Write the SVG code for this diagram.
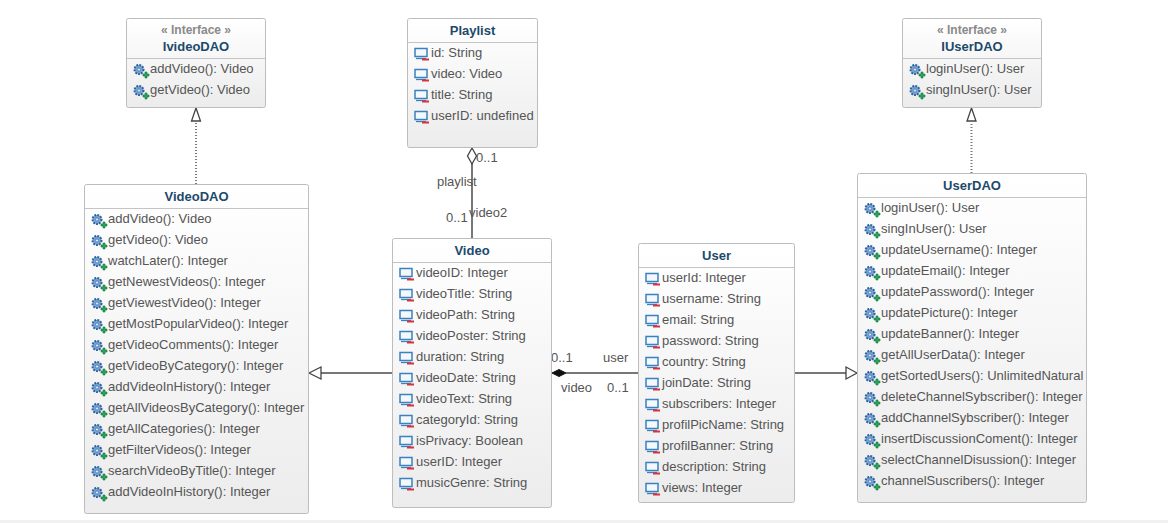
<svg xmlns="http://www.w3.org/2000/svg" width="1168" height="523" viewBox="0 0 1168 523">
<style>
text{font-family:"Liberation Sans",Arial,sans-serif;font-size:13px;fill:#555}
.t{font-weight:bold;fill:#1c4a6b;text-anchor:middle}
.s{font-weight:bold;font-size:12px;fill:#8a8a8a;text-anchor:middle}
.b{fill:url(#g);stroke:#bdbdbd;stroke-width:1}
.h{stroke:#c4c4c4;stroke-width:1;fill:none}
.c{stroke:#777;stroke-width:2;fill:none}
.d{stroke:#777;stroke-width:2;stroke-dasharray:1 2;fill:none}
.o{fill:#fff;stroke:#444;stroke-width:1.3}
</style>
<defs>
<linearGradient id="g" x1="0" y1="0" x2="0" y2="1"><stop offset="0" stop-color="#fff"/><stop offset="1" stop-color="#ececec"/></linearGradient>
<g id="op">
<circle cx="6" cy="7.500" r="4.500" fill="#7aa5d2" stroke="#2b5f9e" stroke-width="2" stroke-dasharray="1.800 1.200"/>
<circle cx="6" cy="7.500" r="1.600" fill="#dbe8f5" stroke="#2b5f9e" stroke-width="0.600"/>
<path d="M10 12h2v-2h2v2h2v2h-2v2h-2v-2h-2z" fill="#2aa25c" stroke="#0f7a3c" stroke-width="0.600"/>
</g>
<g id="at">
<rect x="1" y="1.500" width="12" height="8" fill="#f3f8fc" stroke="#3b80bf" stroke-width="1.500"/>
<path d="M2 11.500h10" stroke="#3b80bf" stroke-width="1.300"/>
<rect x="8" y="11.500" width="7" height="2" fill="#d9303a"/>
</g>
</defs>
<rect x="0" y="520" width="1168" height="3" fill="#f1f1f1"/>
<g id="connectors">
<path class="d" d="M196 184V122"/>
<path class="o" d="M196 108l-4.500 13h9z"/>
<path class="d" d="M971.500 173V122"/>
<path class="o" d="M971.500 108l-4.500 13h9z"/>
<path class="c" d="M472 238V163"/>
<path class="o" d="M472 148l-4.500 8 4.500 8 4.500-8z"/>
<path class="c" d="M392 373H320"/>
<path class="o" d="M309 373l12-6v12z"/>
<path class="c" d="M638 373H566"/>
<path d="M552 373l7-3.500 7 3.500-7 3.500z" fill="#111" stroke="#111"/>
<path class="c" d="M795 373H846"/>
<path class="o" d="M857 373l-11-6v12z"/>
<text x="476" y="162">0..1</text>
<text x="437" y="186">playlist</text>
<text x="446" y="222">0..1</text>
<text x="469" y="217">video2</text>
<text x="551" y="362">0..1</text>
<text x="603" y="362">user</text>
<text x="561" y="392">video</text>
<text x="607" y="392">0..1</text>
</g>
<g id="IvideoDAO">
<rect class="b" x="126.500" y="18.500" width="139" height="89" rx="2"/>
<path class="h" d="M127 58.500H265"/>
<text class="s" x="196" y="34">« Interface »</text>
<text class="t" x="196" y="51">IvideoDAO</text>
<use href="#op" x="133" y="62"/><text x="150" y="73">addVideo(): Video</text>
<use href="#op" x="133" y="83"/><text x="150" y="94">getVideo(): Video</text>
</g>
<g id="Playlist">
<rect class="b" x="407.500" y="18.500" width="130" height="129" rx="2"/>
<path class="h" d="M408 42.500H537"/>
<text class="t" x="472.500" y="35">Playlist</text>
<use href="#at" x="414" y="47"/><text x="431" y="57">id: String</text>
<use href="#at" x="414" y="68"/><text x="431" y="78">video: Video</text>
<use href="#at" x="414" y="89"/><text x="431" y="99">title: String</text>
<use href="#at" x="414" y="110"/><text x="431" y="120">userID: undefined</text>
</g>
<g id="IUserDAO">
<rect class="b" x="902.500" y="18.500" width="139" height="89" rx="2"/>
<path class="h" d="M903 58.500H1041"/>
<text class="s" x="972" y="34">« Interface »</text>
<text class="t" x="972" y="51">IUserDAO</text>
<use href="#op" x="909" y="62"/><text x="926" y="73">loginUser(): User</text>
<use href="#op" x="909" y="83"/><text x="926" y="94">singInUser(): User</text>
</g>
<g id="VideoDAO">
<rect class="b" x="84.500" y="184.500" width="224" height="329" rx="2"/>
<path class="h" d="M85 208.500H308"/>
<text class="t" x="196.500" y="201">VideoDAO</text>
<use href="#op" x="91" y="212"/><text x="108" y="223">addVideo(): Video</text>
<use href="#op" x="91" y="233"/><text x="108" y="244">getVideo(): Video</text>
<use href="#op" x="91" y="254"/><text x="108" y="265">watchLater(): Integer</text>
<use href="#op" x="91" y="275"/><text x="108" y="286">getNewestVideos(): Integer</text>
<use href="#op" x="91" y="296"/><text x="108" y="307">getViewestVideo(): Integer</text>
<use href="#op" x="91" y="317"/><text x="108" y="328">getMostPopularVideo(): Integer</text>
<use href="#op" x="91" y="338"/><text x="108" y="349">getVideoComments(): Integer</text>
<use href="#op" x="91" y="359"/><text x="108" y="370">getVideoByCategory(): Integer</text>
<use href="#op" x="91" y="380"/><text x="108" y="391">addVideoInHistory(): Integer</text>
<use href="#op" x="91" y="401"/><text x="108" y="412">getAllVideosByCategory(): Integer</text>
<use href="#op" x="91" y="422"/><text x="108" y="433">getAllCategories(): Integer</text>
<use href="#op" x="91" y="443"/><text x="108" y="454">getFilterVideos(): Integer</text>
<use href="#op" x="91" y="464"/><text x="108" y="475">searchVideoByTitle(): Integer</text>
<use href="#op" x="91" y="485"/><text x="108" y="496">addVideoInHistory(): Integer</text>
</g>
<g id="Video">
<rect class="b" x="392.500" y="238.500" width="159" height="269" rx="2"/>
<path class="h" d="M393 262.500H551"/>
<text class="t" x="472" y="255">Video</text>
<use href="#at" x="399" y="267"/><text x="416" y="277">videoID: Integer</text>
<use href="#at" x="399" y="288"/><text x="416" y="298">videoTitle: String</text>
<use href="#at" x="399" y="309"/><text x="416" y="319">videoPath: String</text>
<use href="#at" x="399" y="330"/><text x="416" y="340">videoPoster: String</text>
<use href="#at" x="399" y="351"/><text x="416" y="361">duration: String</text>
<use href="#at" x="399" y="372"/><text x="416" y="382">videoDate: String</text>
<use href="#at" x="399" y="393"/><text x="416" y="403">videoText: String</text>
<use href="#at" x="399" y="414"/><text x="416" y="424">categoryId: String</text>
<use href="#at" x="399" y="435"/><text x="416" y="445">isPrivacy: Boolean</text>
<use href="#at" x="399" y="456"/><text x="416" y="466">userID: Integer</text>
<use href="#at" x="399" y="477"/><text x="416" y="487">musicGenre: String</text>
</g>
<g id="User">
<rect class="b" x="638.500" y="243.500" width="156" height="259" rx="2"/>
<path class="h" d="M639 267.500H794"/>
<text class="t" x="716.500" y="260">User</text>
<use href="#at" x="645" y="272"/><text x="662" y="282">userId: Integer</text>
<use href="#at" x="645" y="293"/><text x="662" y="303">username: String</text>
<use href="#at" x="645" y="314"/><text x="662" y="324">email: String</text>
<use href="#at" x="645" y="335"/><text x="662" y="345">password: String</text>
<use href="#at" x="645" y="356"/><text x="662" y="366">country: String</text>
<use href="#at" x="645" y="377"/><text x="662" y="387">joinDate: String</text>
<use href="#at" x="645" y="398"/><text x="662" y="408">subscribers: Integer</text>
<use href="#at" x="645" y="419"/><text x="662" y="429">profilPicName: String</text>
<use href="#at" x="645" y="440"/><text x="662" y="450">profilBanner: String</text>
<use href="#at" x="645" y="461"/><text x="662" y="471">description: String</text>
<use href="#at" x="645" y="482"/><text x="662" y="492">views: Integer</text>
</g>
<g id="UserDAO">
<rect class="b" x="857.500" y="173.500" width="229" height="329" rx="2"/>
<path class="h" d="M858 197.500H1086"/>
<text class="t" x="972" y="190">UserDAO</text>
<use href="#op" x="864" y="201"/><text x="881" y="212">loginUser(): User</text>
<use href="#op" x="864" y="222"/><text x="881" y="233">singInUser(): User</text>
<use href="#op" x="864" y="243"/><text x="881" y="254">updateUsername(): Integer</text>
<use href="#op" x="864" y="264"/><text x="881" y="275">updateEmail(): Integer</text>
<use href="#op" x="864" y="285"/><text x="881" y="296">updatePassword(): Integer</text>
<use href="#op" x="864" y="306"/><text x="881" y="317">updatePicture(): Integer</text>
<use href="#op" x="864" y="327"/><text x="881" y="338">updateBanner(): Integer</text>
<use href="#op" x="864" y="348"/><text x="881" y="359">getAllUserData(): Integer</text>
<use href="#op" x="864" y="369"/><text x="881" y="380">getSortedUsers(): UnlimitedNatural</text>
<use href="#op" x="864" y="390"/><text x="881" y="401">deleteChannelSybscriber(): Integer</text>
<use href="#op" x="864" y="411"/><text x="881" y="422">addChannelSybscriber(): Integer</text>
<use href="#op" x="864" y="432"/><text x="881" y="443">insertDiscussionComent(): Integer</text>
<use href="#op" x="864" y="453"/><text x="881" y="464">selectChannelDisussion(): Integer</text>
<use href="#op" x="864" y="474"/><text x="881" y="485">channelSuscribers(): Integer</text>
</g>
</svg>
